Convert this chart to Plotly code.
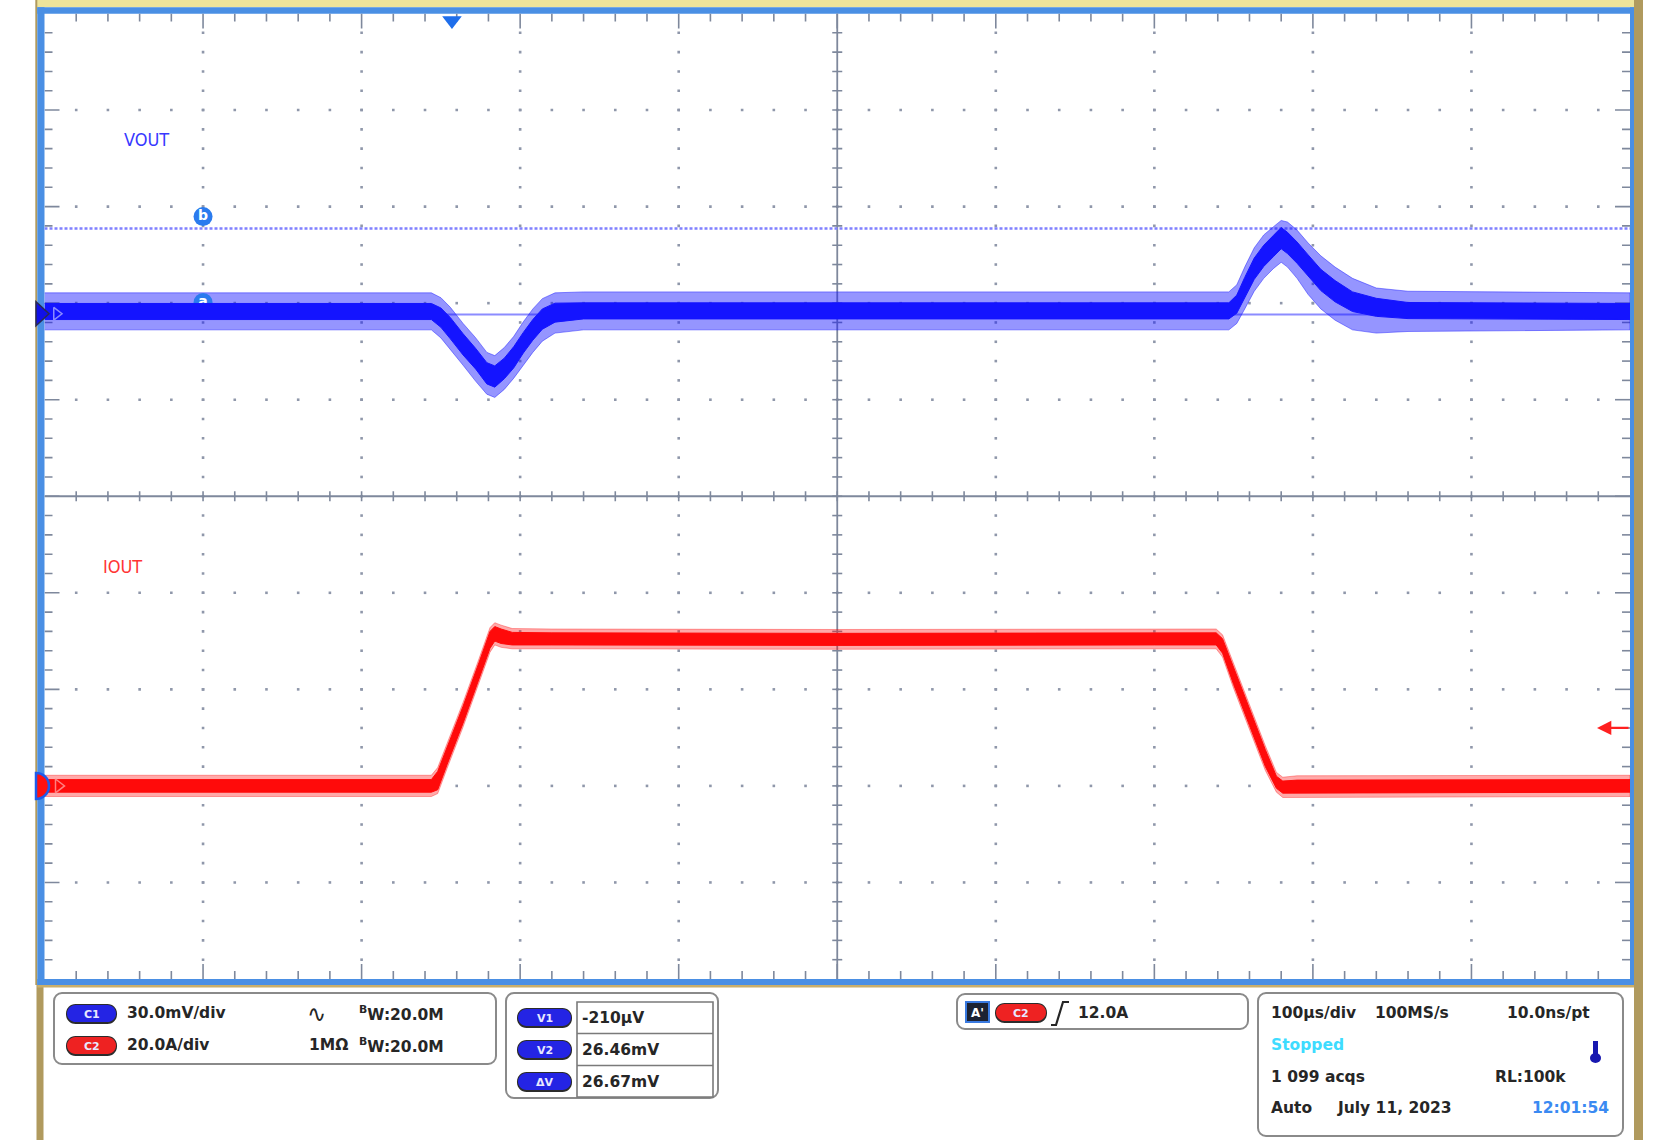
import plotly.graph_objects as go

W, H = 1680, 1140

US_PER_DIV = 100.0          # 100 µs/div
VOUT_MV_PER_DIV = 30.0      # C1 30.0 mV/div
IOUT_A_PER_DIV = 20.0       # C2 20.0 A/div
VOUT_POS_DIV = 1.89         # C1 ground marker position (div from centre)
IOUT_POS_DIV = -3.0         # C2 ground marker position (div from centre)

# VOUT (mV): dense core of the trace and outer reach of the noise spikes
vout_t = [-500, -256, -250, -244, -236, -228, -221, -216, -210, -204, -198, -192, -186, -178,
          -160, 0, 200, 247, 252, 257, 263, 269, 275, 280, 284, 290, 297, 305, 314, 325, 340, 360, 500]
vout_core_hi = [3.2, 3.2, 1.8, -1.2, -6.2, -10.8, -15.2, -16.2, -13.8, -10.2, -5.8, -1.8, 1.5, 3.3,
                3.4, 3.4, 3.4, 3.4, 5.8, 11.3, 17.3, 21.3, 24.3, 26.8, 25.3, 22.3, 18.3, 13.8, 10.3, 6.8, 4.8, 3.5, 3.2]
vout_core_lo = [-1.8, -1.8, -4.2, -7.8, -12.8, -17.2, -21.8, -22.8, -20.2, -16.8, -12.2, -8.2, -4.8, -2.6,
                -1.6, -1.6, -1.6, -1.6, 0.2, 4.7, 10.7, 14.7, 17.7, 20.2, 18.7, 15.7, 11.7, 7.2, 3.7, 0.7, -0.8, -1.5, -1.8]
vout_spike_hi = [6.5, 6.5, 5, 2, -3, -7.5, -12, -13, -10.5, -7, -2.5, 1.5, 4.7, 6.5,
                 6.8, 6.8, 6.8, 6.8, 9, 14.5, 20.5, 24.5, 27, 29, 28.5, 26, 22, 18, 14.5, 11, 8, 7, 6.5]
vout_spike_lo = [-5, -5, -7.5, -11, -16, -21, -25, -26, -23.5, -20, -16, -12, -8.5, -6,
                 -5, -5, -5, -5, -3, 1.5, 7, 11, 14, 16, 14.5, 11, 6, 1.5, -2, -5, -6, -5.5, -5]

# IOUT (A)
iout_t = [-500, -256, -252, -246, -236, -226, -219, -216, -212, -205, -180, 0, 200,
          239, 243, 250, 260, 270, 277, 281, 290, 500]
iout_core_hi = [1.3, 1.3, 3.0, 8.0, 16.5, 25.5, 32.0, 33.0, 32.5, 31.8, 31.7, 31.6, 31.7,
                31.7, 30.5, 24.5, 16.0, 7.5, 2.0, 1.0, 1.2, 1.3]
iout_core_lo = [-1.3, -1.3, -0.8, 4.5, 13.0, 22.0, 28.5, 30.0, 29.5, 29.2, 29.2, 29.1, 29.2,
                29.2, 27.5, 21.0, 12.5, 4.0, -0.5, -1.5, -1.5, -1.3]
iout_spike_hi = [2.2, 2.2, 3.8, 8.8, 17.3, 26.3, 32.8, 33.8, 33.3, 32.6, 32.5, 32.4, 32.5,
                 32.5, 31.3, 25.3, 16.8, 8.3, 2.8, 1.8, 2.1, 2.2]
iout_spike_lo = [-2.2, -2.2, -1.6, 3.7, 12.2, 21.2, 27.7, 29.2, 28.7, 28.4, 28.4, 28.3, 28.4,
                 28.4, 26.7, 20.2, 11.7, 3.2, -1.3, -2.4, -2.4, -2.2]

cursor_names = ["a", "b"]
cursor_mv = [-0.21, 26.46]
cursor_label_t = -400
trigger_pos_us = -243
trigger_level_a = 12.0

channel_rows = ["30.0mV/div", "20.0A/div"]
bw_text = "<sup>B</sup>W:20.0M"
cursor_pills = ["V1", "V2", "ΔV"]
cursor_values = ["-210µV", "26.46mV", "26.67mV"]
trigger_text = "12.0A"
tb_row1 = ["100µs/div", "100MS/s", "10.0ns/pt"]
status_text = "Stopped"
acq_text = ["1 099 acqs", "RL:100k"]
date_text = ["Auto", "July 11, 2023", "12:01:54"]

# ---------------- geometry (pixels) ----------------
GX0, GX1 = 44.5, 1630.0
GY0, GY1 = 13.5, 979.0
DIVX = (GX1 - GX0) / 10.0
DIVY = (GY1 - GY0) / 10.0
US_PER_PX = US_PER_DIV / DIVX
DIV_PER_PX = 1.0 / DIVY


def X(x):
    return x / W


def Y(y):
    return 1 - y / H


GRID = "#7E889C"
BLUE_BORDER = "#4A8FE4"
TAN = "#B09A5E"
TXT = "#262626"
VCOL = "#1414FF"
ICOL = "#FF0A0A"

fig = go.Figure()

# ---------------- grid dots ----------------
dx, dy = [], []
for k in range(-4, 5):
    if k == 0:
        continue
    for j in range(1, 50):
        dx.append(k * US_PER_DIV)
        dy.append(-5 + j * 0.2)
        dx.append(-500 + j * 20)
        dy.append(k)
fig.add_trace(go.Scatter(x=dx, y=dy, mode="markers", hoverinfo="skip",
                         marker=dict(symbol="square", size=2.6, color="#8F97AA", line=dict(width=0))))

# ---------------- edge / centre ticks ----------------
minor_px, major_px = 8, 15
tx, ty = [], []
for j in range(1, 50):
    t = -500 + j * 20
    L = (major_px if j % 5 == 0 else minor_px) * DIV_PER_PX
    tx += [t, t, None, t, t, None]
    ty += [5, 5 - L, None, -5, -5 + L, None]
    c = 5 * DIV_PER_PX
    tx += [t, t, None]
    ty += [-c, c, None]
for j in range(1, 50):
    yv = -5 + j * 0.2
    L = (major_px if j % 5 == 0 else minor_px) * US_PER_PX
    tx += [-500, -500 + L, None, 500, 500 - L, None]
    ty += [yv, yv, None, yv, yv, None]
    c = 5 * US_PER_PX
    tx += [-c, c, None]
    ty += [yv, yv, None]
fig.add_trace(go.Scatter(x=tx, y=ty, mode="lines", hoverinfo="skip",
                         line=dict(color=GRID, width=1.6)))
fig.add_trace(go.Scatter(x=[-500, 500, None, 0, 0], y=[0, 0, None, -5, 5], mode="lines",
                         hoverinfo="skip", line=dict(color=GRID, width=1.8)))

# ---------------- cursors ----------------
fig.add_trace(go.Scatter(x=[-500, 500], y=[cursor_mv[0]] * 2, yaxis="y2", mode="lines",
                         hoverinfo="skip", line=dict(color="#8C8CFF", width=2)))
fig.add_trace(go.Scatter(x=[-500, 500], y=[cursor_mv[1]] * 2, yaxis="y2", mode="lines",
                         hoverinfo="skip", line=dict(color="#8080FF", width=2.5, dash="3px,2px")))


def band(t, hi, lo, axis, color):
    fig.add_trace(go.Scatter(x=t + t[::-1], y=hi + lo[::-1], yaxis=axis, mode="lines",
                             fill="toself", fillcolor=color, line=dict(color=color, width=1),
                             hoverinfo="skip"))


# ---------------- waveforms ----------------
band(iout_t, iout_spike_hi, iout_spike_lo, "y3", "rgba(255,10,10,0.35)")
band(iout_t, iout_core_hi, iout_core_lo, "y3", ICOL)
band(vout_t, vout_spike_hi, vout_spike_lo, "y2", "rgba(20,20,255,0.45)")

lift_mv = 12 / DIVY * VOUT_MV_PER_DIV
fig.add_trace(go.Scatter(x=[cursor_label_t] * 2, y=[v + lift_mv for v in cursor_mv], yaxis="y2",
                         mode="markers+text", text=cursor_names, textposition="middle center",
                         textfont=dict(color="white", size=14, family="DejaVu Sans", weight="bold"),
                         marker=dict(size=19, color="#2A7BEE"), hoverinfo="skip", cliponaxis=False))

band(vout_t, vout_core_hi, vout_core_lo, "y2", VCOL)

# open ">" channel markers just inside the left edge
fig.add_trace(go.Scatter(x=[-500 + 12 * US_PER_PX], y=[0], yaxis="y2", mode="markers",
                         hoverinfo="skip", cliponaxis=False,
                         marker=dict(symbol="triangle-right-open", size=11, color="#8A8AFF",
                                     line=dict(width=1.5))))
fig.add_trace(go.Scatter(x=[-500 + 14 * US_PER_PX], y=[0], yaxis="y3", mode="markers",
                         hoverinfo="skip", cliponaxis=False,
                         marker=dict(symbol="triangle-right-open", size=12, color="#FF8080",
                                     line=dict(width=1.5))))
# trigger position marker
fig.add_trace(go.Scatter(x=[trigger_pos_us], y=[5 - 7 * DIV_PER_PX], mode="markers",
                         hoverinfo="skip", cliponaxis=False,
                         marker=dict(symbol="triangle-down", size=17, color="#1E6EEB",
                                     line=dict(width=0))))

annotations = []
annotations.append(dict(x=500 - 33 * US_PER_PX, y=trigger_level_a, xref="x", yref="y3",
                        ax=33, ay=0, showarrow=True, arrowhead=2, arrowsize=1.3,
                        arrowwidth=2.2, arrowcolor="#FF2020", text=""))

# ---------------- frame shapes ----------------
shapes = []


def rect(x0, y0, x1, y1, fill=None, line=None, lw=0, layer="below"):
    shapes.append(dict(type="rect", xref="paper", yref="paper", x0=X(x0), x1=X(x1),
                       y0=Y(y1), y1=Y(y0), fillcolor=fill,
                       line=dict(color=line or "rgba(0,0,0,0)", width=lw), layer=layer))


def rrect_path(x0, y0, x1, y1, r):
    k = 0.5523 * r
    p = [
        f"M {X(x0 + r)},{Y(y0)}", f"L {X(x1 - r)},{Y(y0)}",
        f"C {X(x1 - r + k)},{Y(y0)} {X(x1)},{Y(y0 + r - k)} {X(x1)},{Y(y0 + r)}",
        f"L {X(x1)},{Y(y1 - r)}",
        f"C {X(x1)},{Y(y1 - r + k)} {X(x1 - r + k)},{Y(y1)} {X(x1 - r)},{Y(y1)}",
        f"L {X(x0 + r)},{Y(y1)}",
        f"C {X(x0 + r - k)},{Y(y1)} {X(x0)},{Y(y1 - r + k)} {X(x0)},{Y(y1 - r)}",
        f"L {X(x0)},{Y(y0 + r)}",
        f"C {X(x0)},{Y(y0 + r - k)} {X(x0 + r - k)},{Y(y0)} {X(x0 + r)},{Y(y0)} Z",
    ]
    return " ".join(p)


def rrect(x0, y0, x1, y1, r, fill=None, line=None, lw=0):
    shapes.append(dict(type="path", xref="paper", yref="paper", path=rrect_path(x0, y0, x1, y1, r),
                       fillcolor=fill, line=dict(color=line or "rgba(0,0,0,0)", width=lw),
                       layer="below"))


# top yellow band, tan strips
rect(36, 0, 1634, 7.3, fill="#EEE49A")
rect(35.3, 0, 37.3, 985, fill=TAN)
rect(36.5, 985, 43.5, H, fill=TAN)
rect(1634, 0, 1643, H, fill=TAN)
rect(37.3, 985, 1634, 987.5, fill="#C9AE6A")
# blue border
rect(37.3, 7.3, 44.5, 985, fill=BLUE_BORDER)
rect(37.3, 7.3, 1634, 13.8, fill=BLUE_BORDER)
rect(1630, 7.3, 1634, 985, fill=BLUE_BORDER)
rect(37.3, 979, 1634, 985, fill=BLUE_BORDER)

# channel ground markers on the left border (anchored to each channel's zero)
shapes.append(dict(type="path", xref="paper", yref="y2", xsizemode="pixel", ysizemode="pixel",
                   xanchor=X(36), yanchor=0, path="M 0,-12 L 13,0 L 0,12 Z",
                   fillcolor="#1010E8", line=dict(color="#2A2A55", width=1.5), layer="above"))
shapes.append(dict(type="path", xref="paper", yref="y3", xsizemode="pixel", ysizemode="pixel",
                   xanchor=X(36), yanchor=0,
                   path="M 0,-13 C 7.2,-13 13,-7.2 13,0 C 13,7.2 7.2,13 0,13 Z",
                   fillcolor="#FF1010", line=dict(color="#1E5BEB", width=2.5), layer="above"))


def pill(x0, y0, x1, y1, color, label):
    rrect(x0 - 1, y0 - 1, x1 + 1, y1 + 2, (y1 - y0) / 2 + 1, fill="#2C2C2C")
    rrect(x0, y0, x1, y1, (y1 - y0) / 2, fill=color)
    annotations.append(dict(x=X((x0 + x1) / 2), y=Y((y0 + y1) / 2 + 0.5), xref="paper", yref="paper",
                            text=label, showarrow=False, xanchor="center", yanchor="middle",
                            font=dict(family="DejaVu Sans", size=11, color="#E8E8FF", weight="bold")))


def txt(s, x, y, anchor="left", color=TXT, size=15.5, family="DejaVu Sans", weight="bold"):
    annotations.append(dict(x=X(x), y=Y(y), xref="paper", yref="paper", text=s, showarrow=False,
                            xanchor=anchor, yanchor="middle",
                            font=dict(family=family, size=size, color=color, weight=weight)))


PBLUE = "#2424E4"
PRED = "#EE2222"

# box 1 : channel settings
rrect(54, 993, 496, 1064, 8, fill="white", line="#8A8A8A", lw=2)
pill(67, 1005, 116, 1022, PBLUE, "C1")
pill(67, 1037, 116, 1054, PRED, "C2")
txt(channel_rows[0], 125, 1013)
txt(channel_rows[1], 125, 1045)
txt("∿", 316, 1014, anchor="center", size=23, weight="normal")
txt("1MΩ", 307, 1045)
txt(bw_text, 357, 1013)
txt(bw_text, 357, 1045)

# box 2 : cursor readouts
rrect(506, 993, 718, 1098, 8, fill="white", line="#8A8A8A", lw=2)
rect(577, 1002, 713, 1097, fill="white", line="#7A7A7A", lw=1.6)
for ysep in (1033.5, 1065.5):
    shapes.append(dict(type="line", xref="paper", yref="paper", x0=X(577), x1=X(713),
                       y0=Y(ysep), y1=Y(ysep), line=dict(color="#7A7A7A", width=1.6), layer="below"))
for i, (lab, val) in enumerate(zip(cursor_pills, cursor_values)):
    yc = 1017.5 + i * 32
    pill(518, yc - 8.5, 571, yc + 8.5, PBLUE, lab)
    txt(val, 580, yc + 0.5)

# box 3 : trigger
rrect(957, 994, 1248, 1029, 8, fill="white", line="#8A8A8A", lw=2)
rect(966, 1002, 989, 1022, fill="#1C2232", line="#3A7AE0", lw=2)
txt("A'", 977.5, 1012.5, anchor="center", color="white", size=12)
pill(996, 1004, 1046, 1021, PRED, "C2")
shapes.append(dict(type="path", xref="paper", yref="paper",
                   path=f"M {X(1051)},{Y(1025)} L {X(1056)},{Y(1025)} L {X(1063)},{Y(1002)} L {X(1069)},{Y(1002)}",
                   line=dict(color=TXT, width=2.2), layer="below"))
txt(trigger_text, 1076, 1013)

# box 4 : timebase / acquisition
rrect(1258, 993, 1623, 1136, 8, fill="white", line="#8A8A8A", lw=2)
txt(tb_row1[0], 1269, 1013)
txt(tb_row1[1], 1373, 1013)
txt(tb_row1[2], 1592, 1013, anchor="right")
txt(status_text, 1269, 1045, color="#3EDCFF")
txt(acq_text[0], 1269, 1077)
txt(acq_text[1], 1568, 1077, anchor="right")
txt(date_text[0], 1269, 1108)
txt(date_text[1], 1335, 1108)
txt(date_text[2], 1611, 1108, anchor="right", color="#3A8AF2")
# thermometer icon
rect(1593, 1041, 1598, 1057, fill="#1818B0")
shapes.append(dict(type="circle", xref="paper", yref="paper", x0=X(1590), x1=X(1601),
                   y0=Y(1063), y1=Y(1053), fillcolor="#1818B0", line=dict(width=0), layer="below"))

# trace labels
txt("VOUT", 122, 139.5, color="#3838FF", size=18, family="DejaVu Sans Condensed, Liberation Sans",
    weight="normal")
txt("IOUT", 101, 566, color="#FF3434", size=18, family="DejaVu Sans Condensed, Liberation Sans",
    weight="normal")

# ---------------- layout ----------------
ydom = [Y(GY1), Y(GY0)]
fig.update_layout(
    width=W, height=H, margin=dict(l=0, r=0, t=0, b=0),
    paper_bgcolor="white", plot_bgcolor="rgba(0,0,0,0)", showlegend=False,
    xaxis=dict(domain=[X(GX0), X(GX1)], range=[-5 * US_PER_DIV, 5 * US_PER_DIV], visible=False,
               fixedrange=True),
    yaxis=dict(domain=ydom, range=[-5, 5], visible=False, fixedrange=True),
    yaxis2=dict(overlaying="y", range=[(-5 - VOUT_POS_DIV) * VOUT_MV_PER_DIV,
                                       (5 - VOUT_POS_DIV) * VOUT_MV_PER_DIV], visible=False),
    yaxis3=dict(overlaying="y", range=[(-5 - IOUT_POS_DIV) * IOUT_A_PER_DIV,
                                       (5 - IOUT_POS_DIV) * IOUT_A_PER_DIV], visible=False),
    shapes=shapes, annotations=annotations,
)

fig.write_html("out.html", post_script="document.body.style.margin='0';",
               config={"displayModeBar": False})
